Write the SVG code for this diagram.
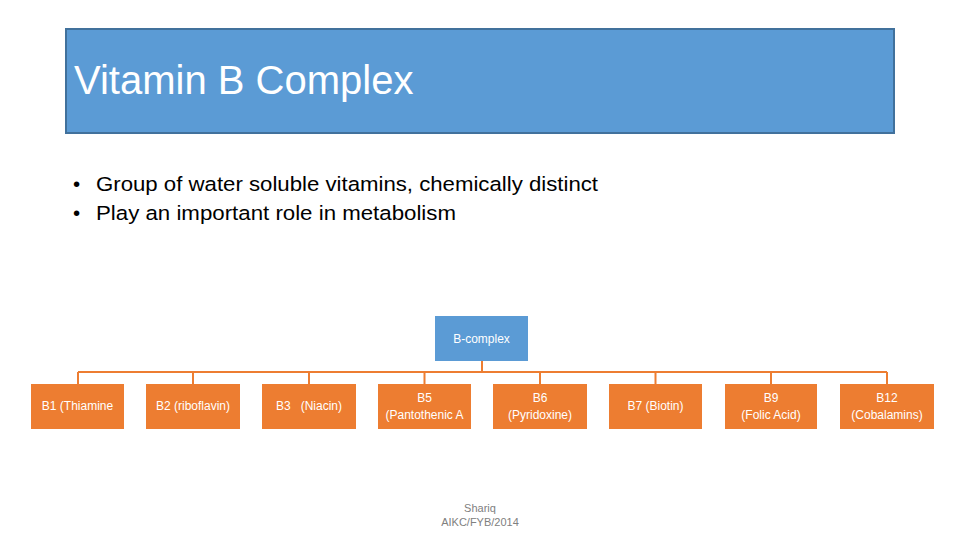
<svg xmlns="http://www.w3.org/2000/svg" width="960" height="540" viewBox="0 0 960 540">
<style>
.t{font-family:"Liberation Sans",Arial,sans-serif}
.box{fill:#ED7D31}
.bl{fill:#FFFFFF;font-size:12px;text-anchor:middle}
.conn{stroke:#ED7D31;stroke-width:2;fill:none}
</style>
<rect width="960" height="540" fill="#FFFFFF"/>
<g id="title">
<rect x="66" y="29" width="828" height="104" fill="#5B9BD5" stroke="#41719C" stroke-width="2"/>
<text class="t" x="74" y="94" font-size="40" fill="#FFFFFF">Vitamin B Complex</text>
</g>
<g id="bullets" class="t" font-size="20.5" fill="#000000">
<text x="73" y="191">•</text>
<text x="96" y="191" textLength="502" lengthAdjust="spacingAndGlyphs">Group of water soluble vitamins, chemically distinct</text>
<text x="73" y="220">•</text>
<text x="96" y="220" textLength="360" lengthAdjust="spacingAndGlyphs">Play an important role in metabolism</text>
</g>
<g id="connectors" class="conn">
<path d="M482 361 V372 M78 372 H887 M78 372 V384 M193 372 V384 M309 372 V384 M424.5 372 V384 M540 372 V384 M655.5 372 V384 M771 372 V384 M887 372 V384"/>
</g>
<g id="root">
<rect x="435" y="316" width="93" height="45" fill="#5B9BD5"/>
<text class="t bl" x="481.5" y="343">B-complex</text>
</g>
<g id="b1"><rect class="box" x="31" y="384" width="93" height="45"/><text class="t bl" x="77.5" y="410">B1 (Thiamine</text></g>
<g id="b2"><rect class="box" x="146" y="384" width="94" height="45"/><text class="t bl" x="193" y="410">B2 (riboflavin)</text></g>
<g id="b3"><rect class="box" x="262" y="384" width="94" height="45"/><text class="t bl" x="309" y="410" xml:space="preserve">B3   (Niacin)</text></g>
<g id="b5"><rect class="box" x="378" y="384" width="93" height="45"/><text class="t bl" x="424.5" y="402">B5</text><text class="t bl" x="424.5" y="419">(Pantothenic A</text></g>
<g id="b6"><rect class="box" x="493" y="384" width="94" height="45"/><text class="t bl" x="540" y="402">B6</text><text class="t bl" x="540" y="419">(Pyridoxine)</text></g>
<g id="b7"><rect class="box" x="609" y="384" width="93" height="45"/><text class="t bl" x="655.5" y="410">B7 (Biotin)</text></g>
<g id="b9"><rect class="box" x="725" y="384" width="92" height="45"/><text class="t bl" x="771" y="402">B9</text><text class="t bl" x="771" y="419">(Folic Acid)</text></g>
<g id="b12"><rect class="box" x="840" y="384" width="94" height="45"/><text class="t bl" x="887" y="402">B12</text><text class="t bl" x="887" y="419">(Cobalamins)</text></g>
<g id="footer" class="t" font-size="11" fill="#808080" text-anchor="middle">
<text x="480" y="512">Shariq</text>
<text x="480" y="526">AIKC/FYB/2014</text>
</g>
</svg>
